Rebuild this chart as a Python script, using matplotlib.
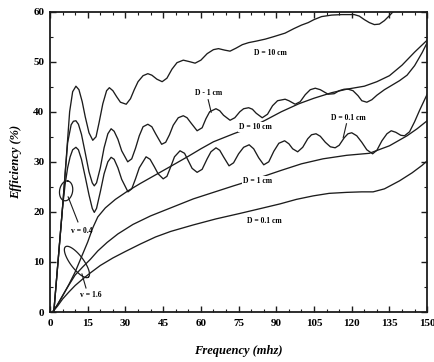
import numpy as np
import matplotlib
matplotlib.use('Agg')
import matplotlib.pyplot as plt
from matplotlib.ticker import MultipleLocator

plt.rcParams['font.family'] = ['Liberation Serif', 'DejaVu Serif']

# v = 0.4 curves (oscillating)
x_d10_v04 = [1.5, 3, 5, 6.5, 7.8, 9, 10.3, 11.5, 12.8, 14, 15.5, 17, 18.3, 19.5, 21, 22.5, 23.6, 25, 26.5, 28,
             30.3, 32, 33.5, 35, 37, 38.9, 40.5, 42.5, 44.6, 46.5, 48.5, 50.5, 53, 55.5, 57.7, 60, 62.5, 65, 67,
             69.5, 71.6, 74, 76.5, 79, 82, 85.6, 89, 93.5, 97, 100, 102.7, 105, 108, 112, 116, 121, 123, 125,
             127, 129, 131, 133, 135, 136.5, 138, 142, 146, 150]
y_d10_v04 = [0, 9, 21, 31, 40, 44, 45.1, 44.4, 42, 39, 35.8, 34.3, 35, 37.8, 41.6, 44.2, 44.8, 44.2, 43, 41.9,
             41.5, 42.6, 44.4, 46, 47.2, 47.6, 47.3, 46.5, 46, 46.7, 48.5, 49.8, 50.3, 50, 49.7, 50.3, 51.6, 52.4,
             52.6, 52.3, 52.1, 52.7, 53.4, 53.8, 54.1, 54.5, 55, 55.7, 56.6, 57.3, 57.8, 58.4, 59, 59.3, 59.4,
             59.4, 59.1, 58.4, 57.8, 57.4, 57.5, 58.2, 59.2, 60, 60.6, 61, 61, 61]

x_d1_v04 = [1.5, 3, 5, 6, 7, 8.4, 9.3, 10.3, 11.3, 12.5, 14, 15.5, 16.8, 17.6, 18.5, 20, 21.5, 23, 24.3, 25.5,
            27, 28.5, 30.9, 32.5, 34, 35.5, 37, 38.9, 40.5, 42, 44.4, 46, 47.5, 49, 51, 53, 54.5, 56, 58.5, 60.5,
            62, 63.5, 66, 67.5, 69, 71.6, 73.5, 75.5, 77, 79, 80.5, 82, 84.4, 86.5, 88.5, 90.5, 93.5, 95, 97.5,
            99.5, 101.5, 103.5, 105.5, 107.5, 110.6, 113, 115, 117, 118.6, 120.5, 122.5, 124, 126, 128, 130,
            133, 136, 139, 142, 145, 148, 150]
y_d1_v04 = [0, 9, 21, 27.5, 33.8, 37.4, 38.1, 38.2, 37.5, 35.5, 31.8, 28, 25.8, 25.2, 25.8, 28.8, 32.8, 35.6,
            36.6, 36.1, 34.5, 32.2, 30, 30.6, 32.7, 35.2, 37, 37.5, 37, 35.6, 33.5, 33.9, 35.4, 37.3, 38.8, 39.2,
            38.8, 37.8, 36.2, 36.8, 38.6, 40, 40.6, 40.2, 39.3, 38.3, 38.8, 40, 40.6, 40.8, 40.5, 39.7, 38.8,
            39.5, 41.2, 42.2, 42.5, 42.2, 41.5, 42, 43.4, 44.4, 44.7, 44.4, 43.5, 43.6, 44.2, 44.5, 44.5, 44.2,
            43.2, 42.2, 41.9, 42.4, 43.3, 44.4, 45.3, 46.2, 47.3, 49.2, 51.8, 53.8]

x_d01_v04 = [1.5, 3, 5, 6, 7, 8, 9, 10.3, 11.3, 12.5, 14, 15.5, 16.8, 17.6, 18.5, 20, 21.5, 23, 24.3, 25.5, 27,
             28.5, 31, 32.5, 34, 35.5, 38.2, 39.8, 41.5, 43, 45, 46.5, 48, 49.5, 51.7, 53.5, 55, 56.5, 58.5, 60.5,
             62.5, 64, 66, 67.5, 69, 71.2, 73, 75, 77, 79.2, 81, 83, 85, 87, 89, 91, 93.3, 95, 96.5, 98.5, 100.5,
             102.5, 104, 105.8, 107.5, 109.5, 111.5, 113.4, 115, 117, 118.5, 120, 122, 124, 126, 128.3, 130, 132,
             134, 135.7, 137.5, 139.5, 141, 143, 145, 147, 150]
y_d01_v04 = [0, 9, 21, 25.5, 28.8, 31, 32.4, 32.9, 32.4, 30.5, 27, 23.4, 20.7, 19.9, 20.7, 24, 27.6, 30, 30.9,
             30.5, 28.8, 26.5, 24, 24.6, 26.6, 28.8, 31, 30.5, 29, 27.6, 26.6, 27.1, 29, 31, 32.2, 31.7, 30.2,
             28.7, 27.9, 28.5, 30.6, 32, 32.8, 32.3, 31, 29.2, 29.8, 31.6, 32.9, 33.4, 32.6, 30.8, 29.4, 30,
             32.1, 33.7, 34.2, 33.6, 32.6, 32, 32.9, 34.6, 35.4, 35.6, 35.1, 33.9, 33, 32.8, 33.3, 34.8, 35.6,
             35.8, 35.2, 33.9, 32.4, 31.6, 32.3, 34.2, 35.6, 36.2, 35.9, 35.3, 35.2, 36, 38, 40.3, 43.5]

# v = 1.6 curves (smooth)
x_d10_v16 = [1, 3, 5, 7.5, 10, 12.5, 15, 17, 19, 22, 26, 31, 36, 42, 48, 55, 60, 65, 73, 80, 85.6, 92, 99,
             105, 112, 118, 125, 130, 135, 140, 145, 150]
y_d10_v16 = [0, 1.5, 3.2, 5.5, 8, 11, 14, 16.8, 19, 20.8, 22.5, 24.2, 25.7, 27.4, 29.1, 31.1, 32.6, 34, 35.6,
             36.9, 38.3, 40, 41.6, 42.7, 43.8, 44.5, 45.1, 46, 47.2, 49.3, 51.9, 54.3]

x_d1_v16 = [1, 3, 5, 7.5, 10, 13, 16, 19, 22.7, 27, 33, 40, 48, 57, 65, 73, 82, 92, 100, 108.6, 118, 127,
            135, 142, 146, 150]
y_d1_v16 = [0, 1.5, 3.3, 5.4, 7.4, 9, 10.5, 12.2, 13.9, 15.6, 17.5, 19.2, 20.8, 22.6, 23.9, 25.2, 26.6, 28.3,
            29.6, 30.6, 31.3, 31.7, 33.2, 35.2, 36.6, 38.2]

x_d01_v16 = [1, 3, 5, 7.5, 10, 13, 16, 20, 25, 30, 36, 42, 48, 57, 66, 75.6, 84, 91.5, 98, 104.7, 111, 118,
             124, 128.5, 133, 139, 144, 148, 150]
y_d01_v16 = [0, 1.2, 2.6, 4, 5.3, 6.6, 7.8, 9.3, 10.8, 12.1, 13.6, 15, 16.1, 17.4, 18.6, 19.7, 20.7, 21.6,
             22.5, 23.2, 23.7, 23.9, 24, 24, 24.6, 26.2, 27.8, 29.3, 30.2]

fig = plt.figure(figsize=(4.35, 3.62), dpi=100)
ax = fig.add_axes([0.115, 0.138, 0.867, 0.83])

lc = '#1c1c1c'
for xs, ys in [(x_d10_v04, y_d10_v04), (x_d1_v04, y_d1_v04), (x_d01_v04, y_d01_v04),
               (x_d10_v16, y_d10_v16), (x_d1_v16, y_d1_v16), (x_d01_v16, y_d01_v16)]:
    ax.plot(xs, ys, color=lc, lw=0.95)

ax.set_xlim(0, 150)
ax.set_ylim(0, 60)

# ellipses drawn in pixel space, converted back to data units
def ellipse(cx, cy, a, b, ang):
    t = np.linspace(0, 2 * np.pi, 80)
    th = np.deg2rad(ang)
    px = a * np.cos(t) * np.cos(th) - b * np.sin(t) * np.sin(th)
    py = a * np.cos(t) * np.sin(th) + b * np.sin(t) * np.cos(th)
    sx = 150 / 377.0
    sy = 60 / 300.0
    ax.plot(cx + px * sx, cy + py * sy, color=lc, lw=0.9)

ellipse(6.4, 24.2, 10, 6.5, 80)
ellipse(10.7, 10.0, 19, 6.5, -53)

tkw = dict(fontsize=5.5, fontweight='bold', ha='center', va='center')
ax.text(12.7, 16.2, 'v = 0.4', **tkw)
ax.plot([11.1, 7.2], [18.0, 23.0], color=lc, lw=0.8)
ax.text(16.3, 3.4, 'v = 1.6', **tkw)
ax.plot([14.3, 12.7], [4.8, 7.6], color=lc, lw=0.8)

ax.text(87.5, 51.7, 'D = 10 cm', **tkw)
ax.text(63, 43.8, 'D - 1 cm', **tkw)
ax.plot([62.9, 64.1], [42.4, 39.9], color=lc, lw=0.8)
ax.text(81.6, 36.9, 'D = 10 cm', bbox=dict(fc='white', ec='none', pad=0.6), **tkw)
ax.text(118.6, 38.8, 'D = 0.1 cm', **tkw)
ax.plot([117.9, 116.6], [37.6, 34.8], color=lc, lw=0.8)
ax.text(82.4, 26.2, 'D = 1 cm', bbox=dict(fc='white', ec='none', pad=0.6), **tkw)
ax.text(85.3, 18.2, 'D = 0.1 cm', **tkw)

ax.xaxis.set_major_locator(MultipleLocator(15))
ax.xaxis.set_minor_locator(MultipleLocator(5))
ax.yaxis.set_major_locator(MultipleLocator(10))
ax.yaxis.set_minor_locator(MultipleLocator(5))
ax.tick_params(which='both', direction='in', top=True, right=True, color=lc)
ax.tick_params(which='major', length=4, width=1)
ax.tick_params(which='minor', length=2, width=0.8)
ax.tick_params(axis='x', labelsize=8, pad=5)
ax.tick_params(axis='y', labelsize=8, pad=4)
for lab in ax.get_xticklabels() + ax.get_yticklabels():
    lab.set_fontweight('bold')
for sp in ax.spines.values():
    sp.set_linewidth(1.3)
    sp.set_color(lc)

ax.set_xlabel('Frequency (mhz)', fontsize=9, fontweight='bold', fontstyle='italic', labelpad=12)
ax.set_ylabel('Efficiency (%)', fontsize=9, fontweight='bold', fontstyle='italic', labelpad=8)

fig.savefig('out.png', dpi=100)
